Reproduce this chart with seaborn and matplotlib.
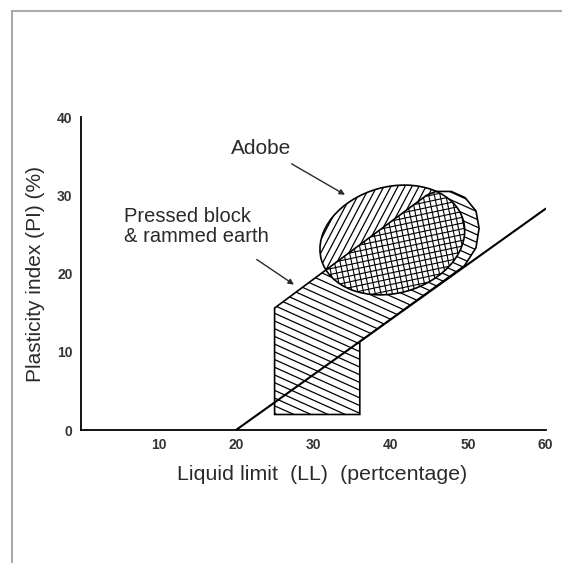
import numpy as np
import matplotlib
matplotlib.use("Agg")
import matplotlib.pyplot as plt
from matplotlib.patches import Ellipse, Polygon
from matplotlib.collections import LineCollection
from matplotlib.lines import Line2D
import seaborn as sns
import pandas as pd

# A-line
aline_ll = [20, 60]
aline_pi = [0, 28.3]

# Pressed block & rammed earth zone (outline)
pressed_ll = [25, 36, 36, 49.5, 51.0, 51.4, 51.0, 49.6, 47.8, 45.8, 44.6, 25]
pressed_pi = [2, 2, 11.3, 21.0, 23.3, 25.8, 28.0, 29.7, 30.5, 30.5, 30.0, 15.6]

# Adobe zone (ellipse): centre, width, height, tilt
adobe_center = (40.2, 24.3)
adobe_width = 19.0
adobe_height = 13.6
adobe_angle = 15

x_ticks = [10, 20, 30, 40, 50, 60]
y_ticks = [0, 10, 20, 30, 40]

sns.set_style("white")
plt.rcParams['font.family'] = ['Liberation Sans', 'DejaVu Sans']

fig = plt.figure(figsize=(5.62, 5.63), dpi=100)
ax = fig.add_axes([0.144, 0.236, 0.827, 0.556])
ax.set_xlim(0, 60)
ax.set_ylim(0, 40)


def hatch(ax, clip, angle, spacing, z, lw=0.9):
    # family of parallel lines clipped to a patch
    a = np.deg2rad(angle)
    d = np.array([np.cos(a), np.sin(a)])
    n = np.array([-d[1], d[0]])
    c = np.array([35.0, 20.0])
    segs = []
    for k in np.arange(-60, 60, spacing):
        p = c + n * k
        segs.append([p - d * 80, p + d * 80])
    lc = LineCollection(segs, colors="black", linewidths=lw, zorder=z)
    ax.add_collection(lc)
    lc.set_clip_path(clip)


def clip_convex(subject, clip):
    # Sutherland-Hodgman: clip subject polygon by convex (ccw) polygon
    out = list(subject)
    for i in range(len(clip)):
        a, b = clip[i], clip[(i + 1) % len(clip)]
        inp, out = out, []
        if not inp:
            break

        def inside(p):
            return (b[0] - a[0]) * (p[1] - a[1]) - (b[1] - a[1]) * (p[0] - a[0]) >= 0

        def inter(p, q):
            x1, y1 = p; x2, y2 = q; x3, y3 = a; x4, y4 = b
            den = (x1 - x2) * (y3 - y4) - (y1 - y2) * (x3 - x4)
            t = ((x1 - x3) * (y3 - y4) - (y1 - y3) * (x3 - x4)) / den
            return (x1 + t * (x2 - x1), y1 + t * (y2 - y1))

        s = inp[-1]
        for e in inp:
            if inside(e):
                if not inside(s):
                    out.append(inter(s, e))
                out.append(e)
            elif inside(s):
                out.append(inter(s, e))
            s = e
    return out


pressed_xy = list(zip(pressed_ll, pressed_pi))

# pressed block zone
pressed_fill = Polygon(pressed_xy, closed=True, facecolor="white", edgecolor="none", zorder=2)
ax.add_patch(pressed_fill)
hatch(ax, pressed_fill, -24, 0.9, 2.1)

# adobe zone
adobe_fill = Ellipse(adobe_center, adobe_width, adobe_height, angle=adobe_angle,
                     facecolor="white", edgecolor="none", zorder=3)
ax.add_patch(adobe_fill)
hatch(ax, adobe_fill, 62, 0.8, 3.1)

# overlap of both zones
t = np.linspace(0, 2 * np.pi, 240, endpoint=False)
th = np.deg2rad(adobe_angle)
ex = adobe_center[0] + adobe_width / 2 * np.cos(t) * np.cos(th) - adobe_height / 2 * np.sin(t) * np.sin(th)
ey = adobe_center[1] + adobe_width / 2 * np.cos(t) * np.sin(th) + adobe_height / 2 * np.sin(t) * np.cos(th)
overlap_xy = clip_convex(pressed_xy, list(zip(ex, ey)))
overlap_fill = Polygon(overlap_xy, closed=True, facecolor="white", edgecolor="none", zorder=4)
ax.add_patch(overlap_fill)
hatch(ax, overlap_fill, 12, 0.72, 4.1, lw=0.8)
hatch(ax, overlap_fill, 102, 0.72, 4.1, lw=0.8)

# outlines
ax.add_patch(Polygon(pressed_xy, closed=True, facecolor="none", edgecolor="black", lw=1.2, zorder=5))
ax.add_patch(Ellipse(adobe_center, adobe_width, adobe_height, angle=adobe_angle,
                     facecolor="none", edgecolor="black", lw=1.2, zorder=5))

df = pd.DataFrame({"LL": aline_ll, "PI": aline_pi})
sns.lineplot(data=df, x="LL", y="PI", color="black", lw=1.5, ax=ax, zorder=6)

# labels with arrows
txt = "#2a2a2a"
ax.text(23.2, 36.0, "Adobe", ha="center", va="center", fontsize=15, color=txt)
ax.annotate("", xy=(34.4, 29.9), xytext=(26.9, 34.2),
            arrowprops=dict(arrowstyle="-|>", color=txt, lw=1.0, mutation_scale=8))
ax.text(5.6, 26.0, "Pressed block\n& rammed earth", ha="left", va="center",
        fontsize=14.5, color=txt, linespacing=1.05)
ax.annotate("", xy=(27.8, 18.4), xytext=(22.4, 22.0),
            arrowprops=dict(arrowstyle="-|>", color=txt, lw=1.0, mutation_scale=8))

ax.set_xticks(x_ticks)
ax.set_yticks(y_ticks)
ax.tick_params(direction="in", length=5, width=1, labelsize=10, colors="black", pad=6)
for lab in ax.get_xticklabels() + ax.get_yticklabels():
    lab.set_fontweight("bold")
    lab.set_color("#333333")
sns.despine(ax=ax)
for s in ["left", "bottom"]:
    ax.spines[s].set_linewidth(1.3)
    ax.spines[s].set_color("black")

ax.set_xlabel("Liquid limit  (LL)  (pertcentage)", fontsize=15.4, color=txt)
ax.set_ylabel("Plasticity index (PI) (%)", fontsize=15, color=txt)
ax.xaxis.set_label_coords(0.518, -0.112)
ax.yaxis.set_label_coords(-0.078, 0.5)

# frame lines of the scanned page
fig.add_artist(Line2D([12 / 562, 1], [1 - 11 / 563] * 2, transform=fig.transFigure, color="#aaaaaa", lw=1.5))
fig.add_artist(Line2D([12 / 562] * 2, [0, 1 - 11 / 563], transform=fig.transFigure, color="#aaaaaa", lw=1.5))

fig.savefig("out.png", dpi=100)
